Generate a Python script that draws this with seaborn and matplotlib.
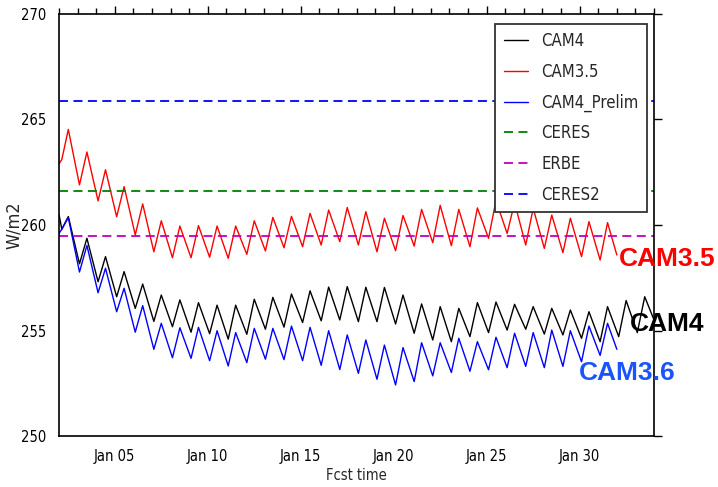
import numpy as np
import pandas as pd
import matplotlib
matplotlib.use("Agg")
import matplotlib.pyplot as plt
import matplotlib.dates as mdates
import seaborn as sns

# daily cycle: first points, then peaks (Jan d+0.5) and troughs (Jan d+1.1)
start_days = [2.0, 2.15]

cam4_start = [260.5, 259.8]
cam4_peaks = [260.4, 259.37, 258.5, 257.79, 257.2, 256.68, 256.45, 256.32, 256.2, 256.2,
              256.48, 256.57, 256.73, 256.88, 257.06, 257.08, 257.05, 257.04, 256.68, 256.26,
              256.13, 256.05, 256.32, 256.35, 256.24, 256.13, 256.05, 255.97, 255.89, 256.13,
              256.42, 256.6]
cam4_troughs = [258.16, 257.31, 256.6, 256.05, 255.43, 255.18, 254.92, 254.85, 254.59, 254.82,
                255.06, 255.16, 255.38, 255.46, 255.5, 255.42, 255.42, 255.31, 254.87, 254.55,
                254.47, 254.71, 254.9, 255.02, 255.06, 254.83, 254.79, 254.63, 254.47, 254.71,
                254.9]
cam4_end = (34.0, 255.5)

cam35_start = [262.9, 263.1]
cam35_peaks = [264.53, 263.46, 262.62, 261.82, 261.0, 260.2, 259.95, 259.97, 259.95, 259.95,
               260.2, 260.36, 260.41, 260.55, 260.71, 260.83, 260.63, 260.32, 260.45, 260.74,
               260.93, 260.74, 260.81, 261.16, 261.06, 260.79, 260.47, 260.32, 260.16, 260.11]
cam35_troughs = [261.9, 261.14, 260.39, 259.53, 258.73, 258.45, 258.45, 258.47, 258.42, 258.61,
                 258.77, 258.92, 258.97, 259.05, 259.21, 259.05, 258.73, 258.78, 259.0, 259.16,
                 259.02, 258.97, 259.37, 259.6, 259.05, 258.89, 258.69, 258.5, 258.34]
cam35_end = (32.0, 258.58)

prelim_start = [259.6, 259.8]
prelim_peaks = [260.35, 259.03, 257.95, 257.0, 256.18, 255.34, 255.13, 255.15, 254.99, 254.9,
                255.1, 255.1, 255.21, 255.15, 254.99, 254.79, 254.55, 254.31, 254.19, 254.42,
                254.42, 254.63, 254.47, 254.68, 254.87, 254.9, 255.02, 254.99, 255.21, 255.34]
prelim_troughs = [257.77, 256.79, 255.89, 254.92, 254.11, 253.71, 253.68, 253.57, 253.32, 253.48,
                  253.64, 253.62, 253.57, 253.35, 253.15, 252.97, 252.69, 252.42, 252.58, 252.85,
                  253.01, 253.07, 253.14, 253.24, 253.3, 253.24, 253.3, 253.52, 253.82]
prelim_end = (32.0, 254.11)

obs_names = ["CERES", "ERBE", "CERES2"]
obs_values = [261.63, 259.49, 265.89]
obs_colors = [(0, 0.5, 0), (0.75, 0, 0.75), (0, 0, 1)]


def build(start, peaks, troughs, end):
    days = start_days + list(2.5 + np.arange(len(peaks))) + list(3.1 + np.arange(len(troughs))) + [end[0]]
    vals = start + peaks + troughs + [end[1]]
    d = pd.DataFrame({'day': days, 'flux': vals}).sort_values('day')
    d['time'] = pd.Timestamp('2000-01-01') + pd.to_timedelta(d['day'] - 1, unit='D')
    return d


runs = [('CAM4', 'black', build(cam4_start, cam4_peaks, cam4_troughs, cam4_end)),
        ('CAM3.5', 'red', build(cam35_start, cam35_peaks, cam35_troughs, cam35_end)),
        ('CAM4_Prelim', 'blue', build(prelim_start, prelim_peaks, prelim_troughs, prelim_end))]

sns.set_style('white')
plt.rcParams['font.family'] = ['DejaVu Sans']
plt.rcParams['font.stretch'] = 'condensed'

fig = plt.figure(figsize=(7.18, 4.87), dpi=100)
ax = fig.add_axes([0.0822, 0.1047, 0.8287, 0.8666])

for name, col, d in runs:
    sns.lineplot(data=d, x='time', y='flux', color=col, lw=1.0, label=name, ax=ax, estimator=None)

for name, v, col in zip(obs_names, obs_values, obs_colors):
    ax.axhline(v, color=col, ls='--', dashes=(5, 3), lw=1.3, label=name)

ax.set_xlim(pd.Timestamp('2000-01-02'), pd.Timestamp('2000-02-03'))
ax.set_ylim(250, 270)
ax.set_yticks([250, 255, 260, 265, 270])
ax.xaxis.set_major_locator(mdates.DayLocator(bymonthday=[5, 10, 15, 20, 25, 30]))
ax.xaxis.set_minor_locator(mdates.DayLocator())
ax.xaxis.set_major_formatter(mdates.DateFormatter('%b %d'))
ax.tick_params(which='both', direction='out', top=True, right=True, labelsize=10.5, colors='black')
ax.tick_params(which='major', length=6, width=1)
ax.tick_params(which='minor', length=4, width=1)
ax.tick_params(axis='x', pad=3)
ax.tick_params(axis='y', pad=3)
for sp in ax.spines.values():
    sp.set_color('black')
    sp.set_linewidth(1.2)

ax.set_xlabel('Fcst time', fontsize=10.5, labelpad=3)
ax.set_ylabel('W/m2', fontsize=13)
ax.yaxis.set_label_coords(-0.0605, 0.5)

leg = ax.legend(loc='upper right', bbox_to_anchor=(0.988, 0.977), borderaxespad=0,
                fontsize=12, fancybox=False, framealpha=1, edgecolor='#333333',
                handlelength=1.45, handletextpad=0.8, borderpad=0.5, labelspacing=0.76)
leg.get_frame().set_linewidth(1.3)

lab = dict(fontsize=19, fontweight='bold', family='Liberation Sans', fontstretch='normal',
           va='center', clip_on=False)
ax.text(pd.Timestamp('2000-02-01 02:00'), 258.4, 'CAM3.5', color='#ff0000', **lab)
ax.text(pd.Timestamp('2000-02-01 17:00'), 255.3, 'CAM4', color='black', **lab)
ax.text(pd.Timestamp('2000-01-29 23:00'), 253.0, 'CAM3.6', color='#1a53ff', **lab)

fig.savefig('out.png', dpi=100)
